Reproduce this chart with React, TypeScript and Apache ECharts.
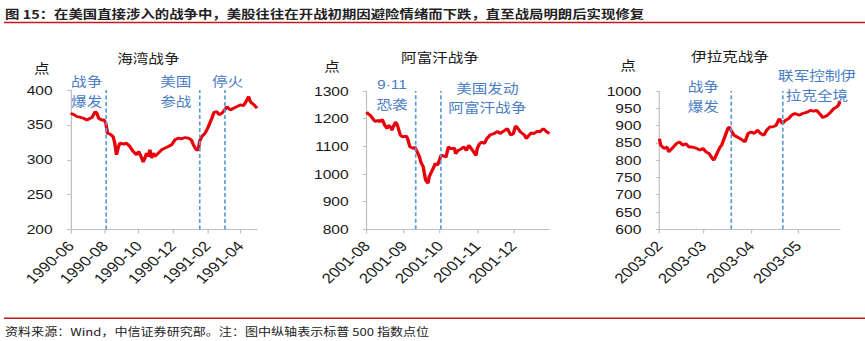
import React, { useEffect, useRef } from "react";
import * as echarts from "echarts";

// ---------- data ----------
const gulfTicks = ["1990-06", "1990-08", "1990-10", "1990-12", "1991-02", "1991-04"];
const gulfEvents = ["1990-08-02", "1991-01-17", "1991-03-05"];
const gulfDates = [
  "1990-06-01", "1990-06-06", "1990-06-12", "1990-06-18", "1990-06-24", "1990-06-30",
  "1990-07-06", "1990-07-09", "1990-07-15", "1990-07-18", "1990-07-21", "1990-07-27",
  "1990-07-31", "1990-08-03", "1990-08-06", "1990-08-11", "1990-08-16", "1990-08-19",
  "1990-08-22", "1990-08-25", "1990-08-28", "1990-09-04", "1990-09-09", "1990-09-15",
  "1990-09-21", "1990-09-27", "1990-10-01", "1990-10-05", "1990-10-09", "1990-10-12",
  "1990-10-15", "1990-10-18", "1990-10-21", "1990-10-24", "1990-10-27", "1990-10-30",
  "1990-11-05", "1990-11-11", "1990-11-17", "1990-11-23", "1990-11-29", "1990-12-05",
  "1990-12-11", "1990-12-17", "1990-12-23", "1990-12-29", "1991-01-03", "1991-01-07",
  "1991-01-12", "1991-01-16", "1991-01-18", "1991-01-22", "1991-01-28", "1991-02-03",
  "1991-02-09", "1991-02-13", "1991-02-18", "1991-02-22", "1991-02-27", "1991-03-04",
  "1991-03-08", "1991-03-14", "1991-03-20", "1991-03-26", "1991-04-01", "1991-04-07",
  "1991-04-13", "1991-04-16", "1991-04-19", "1991-04-22", "1991-04-26", "1991-05-01",
];
const gulfValues = [
  366.7, 365, 362, 361, 359.5, 357,
  359.5, 360.5, 369, 366.7, 359.5, 357,
  357, 352.4, 338, 336.7, 333.3, 323.8,
  307.2, 316.7, 323.8, 322.4, 323.8, 319,
  311.9, 307.2, 311.9, 304.8, 296.7, 302.4,
  309.5, 304.8, 314.3, 302.4, 309.5, 304.8,
  309.5, 314.3, 316.7, 319, 321.4, 328.6,
  331, 330, 331.9, 331, 328.6, 321.4,
  314.3, 314.3, 326.2, 333.3, 338.1, 347.6,
  359.5, 368.1, 369, 364.3, 366.7, 371.4,
  376.2, 371.4, 373.8, 376.2, 378.6, 377.6,
  385.7, 390.5, 383.3, 381, 378.6, 373.8,
];

const afghanTicks = ["2001-08", "2001-09", "2001-10", "2001-11", "2001-12"];
const afghanEvents = ["2001-09-11", "2001-10-02"];
const afghanDates = [
  "2001-08-01", "2001-08-02", "2001-08-04", "2001-08-05", "2001-08-08", "2001-08-11",
  "2001-08-12", "2001-08-14", "2001-08-16", "2001-08-18", "2001-08-19", "2001-08-21",
  "2001-08-22", "2001-08-23", "2001-08-25", "2001-08-26", "2001-08-27", "2001-08-29",
  "2001-08-31", "2001-09-03", "2001-09-04", "2001-09-06", "2001-09-09", "2001-09-10",
  "2001-09-12", "2001-09-14", "2001-09-15", "2001-09-17", "2001-09-19", "2001-09-21",
  "2001-09-22", "2001-09-24", "2001-09-26", "2001-09-27", "2001-09-29", "2001-09-30",
  "2001-10-02", "2001-10-03", "2001-10-06", "2001-10-08", "2001-10-10", "2001-10-13",
  "2001-10-14", "2001-10-16", "2001-10-18", "2001-10-21", "2001-10-23", "2001-10-25",
  "2001-10-27", "2001-10-29", "2001-10-31", "2001-11-01", "2001-11-03", "2001-11-05",
  "2001-11-07", "2001-11-09", "2001-11-12", "2001-11-15", "2001-11-18", "2001-11-20",
  "2001-11-22", "2001-11-24", "2001-11-26", "2001-11-29", "2001-12-01", "2001-12-03",
  "2001-12-05", "2001-12-07", "2001-12-10", "2001-12-12", "2001-12-14", "2001-12-16",
  "2001-12-18", "2001-12-21", "2001-12-23", "2001-12-26", "2001-12-29", "2001-12-31",
];
const afghanValues = [
  1224, 1218, 1212, 1206, 1190, 1194,
  1188, 1197, 1176, 1164, 1176, 1170,
  1158, 1170, 1188, 1182, 1170, 1140,
  1134, 1137, 1128, 1098, 1092, 1098,
  1080, 1061, 1044, 1026, 978, 966,
  990, 1008, 1026, 1038, 1032, 1044,
  1068, 1067, 1061, 1098, 1091, 1094,
  1073, 1085, 1089, 1098, 1085, 1104,
  1092, 1080, 1067, 1092, 1110, 1115,
  1110, 1128, 1142, 1146, 1154, 1146,
  1152, 1158, 1164, 1140, 1146, 1174,
  1164, 1152, 1142, 1128, 1140, 1149,
  1146, 1154, 1152, 1164, 1152, 1146,
];

const iraqTicks = ["2003-02", "2003-03", "2003-04", "2003-05"];
const iraqEvents = ["2003-03-19", "2003-04-21"];
const iraqDates = [
  "2003-02-01", "2003-02-02", "2003-02-04", "2003-02-06", "2003-02-07", "2003-02-10",
  "2003-02-12", "2003-02-14", "2003-02-16", "2003-02-18", "2003-02-20", "2003-02-22",
  "2003-02-25", "2003-02-27", "2003-03-01", "2003-03-03", "2003-03-05", "2003-03-07",
  "2003-03-08", "2003-03-10", "2003-03-12", "2003-03-13", "2003-03-15", "2003-03-17",
  "2003-03-18", "2003-03-19", "2003-03-21", "2003-03-23", "2003-03-25", "2003-03-28",
  "2003-03-30", "2003-04-01", "2003-04-03", "2003-04-05", "2003-04-07", "2003-04-09",
  "2003-04-11", "2003-04-13", "2003-04-15", "2003-04-17", "2003-04-19", "2003-04-21",
  "2003-04-23", "2003-04-25", "2003-04-27", "2003-04-29", "2003-05-02", "2003-05-04",
  "2003-05-07", "2003-05-09", "2003-05-11", "2003-05-13", "2003-05-15", "2003-05-17",
  "2003-05-20", "2003-05-22", "2003-05-24", "2003-05-26", "2003-05-27", "2003-05-28",
];
const iraqValues = [
  862, 843, 834, 838, 824, 838,
  848, 853, 843, 848, 838, 838,
  834, 829, 834, 824, 819, 805,
  800, 819, 838, 843, 867, 891,
  896, 887, 872, 867, 862, 853,
  877, 882, 877, 887, 877, 872,
  887, 896, 896, 901, 920, 906,
  915, 920, 930, 935, 930, 935,
  939, 944, 942, 944, 934, 923,
  930, 939, 949, 954, 959, 970,
];

const chartTitles = ["海湾战争", "阿富汗战争", "伊拉克战争"];
const unitLabel = "点";
const headline =
  "图 15：在美国直接涉入的战争中，美股往往在开战初期因避险情绪而下跌，直至战局明朗后实现修复";
const footnote = "资料来源：Wind，中信证券研究部。注：图中纵轴表示标普 500 指数点位";

// ---------- helpers ----------
const W = 721;
const H = 341;
const S = 865 / W; // horizontal stretch of the reference picture

function ts(s: string): number {
  const p = s.split("-").map(Number);
  return new Date(p[0], p[1] - 1, p[2] || 1).getTime();
}
function fmtMonth(v: number): string {
  const d = new Date(v);
  return d.getFullYear() + "-" + String(d.getMonth() + 1).padStart(2, "0");
}

const FONT = "'Liberation Sans', 'Noto Sans CJK SC', sans-serif";
const CJK = "'Noto Sans CJK SC', 'Liberation Sans', sans-serif";
const BLUE_TEXT = "#4a7dc4";
const BLUE_LINE = "#5b9bd5";
const AXIS = "#bfbfbf";
const RED = "#e8000b";

const panels = [
  { x0: 70.7, x1: 257, top: 90, bottom: 229.5, min: 200, max: 400, interval: 50,
    xMin: "1990-06-01", xMax: "1991-05-01", ticks: gulfTicks, dates: gulfDates,
    values: gulfValues, events: gulfEvents },
  { x0: 366.7, x1: 549.3, top: 91, bottom: 229.3, min: 800, max: 1300, interval: 100,
    xMin: "2001-08-01", xMax: "2001-12-31", ticks: afghanTicks, dates: afghanDates,
    values: afghanValues, events: afghanEvents },
  { x0: 659.3, x1: 840, top: 91, bottom: 229.3, min: 600, max: 1000, interval: 50,
    xMin: "2003-02-01", xMax: "2003-05-28", ticks: iraqTicks, dates: iraqDates,
    values: iraqValues, events: iraqEvents },
];

function txt(x: number, y: number, text: string, opts: any = {}) {
  return {
    type: "text",
    x: x / S,
    y,
    style: {
      text,
      fill: opts.fill || "#1a1a1a",
      fontSize: opts.fontSize || 13,
      fontFamily: opts.fontFamily || CJK,
      fontWeight: opts.fontWeight || "normal",
      align: opts.align || "center",
      verticalAlign: "middle",
      lineHeight: opts.lineHeight || 20,
    },
  };
}

export default function App() {
  const ref = useRef<HTMLDivElement>(null);

  useEffect(() => {
    if (!ref.current) return;
    const chart = echarts.init(ref.current, undefined, { renderer: "svg", width: W, height: H });

    const grid = panels.map((p) => ({
      left: p.x0 / S,
      width: (p.x1 - p.x0) / S,
      top: p.top,
      height: p.bottom - p.top,
      containLabel: false,
    }));
    const xAxis = panels.map((p, i) => ({
      type: "value",
      gridIndex: i,
      min: ts(p.xMin),
      max: ts(p.xMax),
      axisLine: { show: true, onZero: false, lineStyle: { color: AXIS, width: 1 } },
      axisTick: { show: true, customValues: p.ticks.map(ts), length: 4, lineStyle: { color: AXIS } },
      axisLabel: {
        customValues: p.ticks.map(ts),
        rotate: 47,
        margin: 14,
        fontSize: 14,
        color: "#1a1a1a",
        fontFamily: FONT,
        formatter: (v: number) => fmtMonth(v),
      },
      splitLine: { show: false },
    }));
    const yAxis = panels.map((p, i) => ({
      type: "value",
      gridIndex: i,
      min: p.min,
      max: p.max,
      interval: p.interval,
      axisLine: { show: true, onZero: false, lineStyle: { color: AXIS, width: 1 } },
      axisTick: { show: true, length: 3, lineStyle: { color: AXIS } },
      axisLabel: {
        margin: 15,
        fontSize: 13,
        color: "#1a1a1a",
        fontFamily: FONT,
        formatter: (v: number) => String(v),
      },
      splitLine: { show: false },
    }));
    const series = panels.map((p, i) => ({
      type: "line",
      xAxisIndex: i,
      yAxisIndex: i,
      data: p.dates.map((d, j) => [ts(d), p.values[j]]),
      showSymbol: false,
      symbol: "none",
      lineStyle: { color: RED, width: 2.8 },
      markLine: {
        symbol: ["none", "none"],
        silent: true,
        label: { show: false },
        lineStyle: { type: [4, 2.5], color: BLUE_LINE, width: 1.4 },
        data: p.events.map((e) => ({ xAxis: ts(e) })),
      },
    }));

    const graphic = [
      txt(5, 14.5, headline, { align: "left", fontSize: 12, fontWeight: "bold", fill: "#222" }),
      {
        type: "line",
        shape: { x1: 4 / S, y1: 22.5, x2: W, y2: 22.5 },
        style: { stroke: "#c8161d", lineWidth: 1.5 },
      },
      {
        type: "line",
        shape: { x1: 4 / S, y1: 318.3, x2: W, y2: 318.3 },
        style: { stroke: "#c8161d", lineWidth: 1.5 },
      },
      txt(5, 331.5, footnote, { align: "left", fontSize: 10.9, fill: "#222" }),
      txt(148.3, 56.7, chartTitles[0]),
      txt(440, 56, chartTitles[1]),
      txt(730, 55, chartTitles[2]),
      txt(41.7, 66.7, unitLabel),
      txt(332, 65, unitLabel),
      txt(628, 64.5, unitLabel),
      txt(86.7, 90, "战争\n爆发", { fill: BLUE_TEXT }),
      txt(175.8, 90, "美国\n参战", { fill: BLUE_TEXT }),
      txt(227.5, 80, "停火", { fill: BLUE_TEXT }),
      txt(392, 94.3, "9·11\n恐袭", { fill: BLUE_TEXT, lineHeight: 19.5, fontFamily: FONT }),
      txt(487.3, 96.8, "美国发动\n阿富汗战争", { fill: BLUE_TEXT, lineHeight: 19.5 }),
      txt(703.3, 95, "战争\n爆发", { fill: BLUE_TEXT }),
      txt(817, 83.9, "联军控制伊\n拉克全境", { fill: BLUE_TEXT, lineHeight: 20.3 }),
    ];

    chart.setOption({
      animation: false,
      backgroundColor: "#fff",
      textStyle: { fontFamily: FONT },
      grid,
      xAxis,
      yAxis,
      series,
      graphic,
    });
    return () => chart.dispose();
  }, []);

  return (
    <div
      style={{
        position: "absolute",
        left: 0,
        top: 0,
        width: 865,
        height: 341,
        overflow: "hidden",
        background: "#fff",
      }}
    >
      <div
        ref={ref}
        style={{
          width: W,
          height: H,
          transform: `scaleX(${S})`,
          transformOrigin: "0 0",
        }}
      />
    </div>
  );
}
